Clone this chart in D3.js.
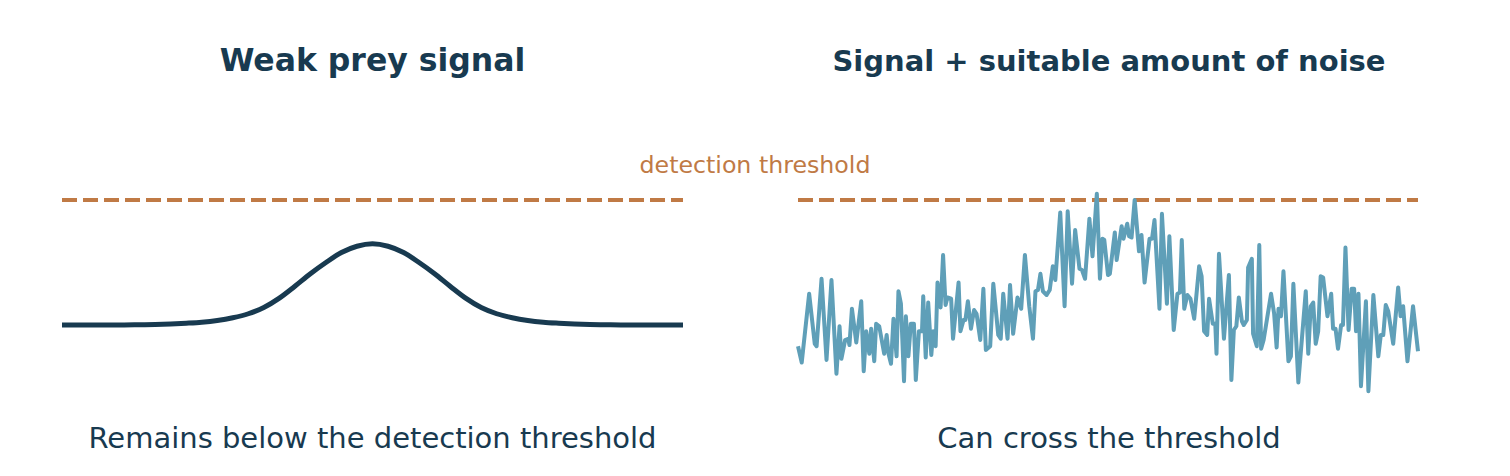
<!DOCTYPE html>
<html>
<head>
<meta charset="utf-8">
<script src="https://cdn.jsdelivr.net/npm/d3@7"></script>
<style>
  html, body { margin: 0; padding: 0; background: #fff; }
  svg { display: block; font-family: "DejaVu Sans", sans-serif; }
</style>
</head>
<body>
<svg id="chart"></svg>
<script>
// panel titles and captions
const titles = ["Weak prey signal", "Signal + suitable amount of noise"];
const captions = ["Remains below the detection threshold", "Can cross the threshold"];
const thresholdLabel = "detection threshold";
const threshold = 1.0;

// left panel: smooth weak signal (time, amplitude)
const signalT = [0, 0.5, 1, 1.25, 1.5, 1.75, 2, 2.25, 2.5, 2.75, 3, 3.25, 3.5, 3.75, 4, 4.25, 4.5, 4.75, 5,
  5.25, 5.5, 5.75, 6, 6.25, 6.5, 6.75, 7, 7.25, 7.5, 7.75, 8, 8.25, 8.5, 8.75, 9, 9.5, 10];
const signalV = [0, 0, 0, 0.002, 0.004, 0.008, 0.014, 0.022, 0.036, 0.058, 0.09, 0.14, 0.215, 0.31, 0.41, 0.50, 0.58, 0.63, 0.65,
  0.63, 0.58, 0.50, 0.41, 0.31, 0.215, 0.14, 0.09, 0.058, 0.036, 0.022, 0.014, 0.008, 0.004, 0.002, 0, 0, 0];

// right panel: signal + noise (time, amplitude)
const noiseT = [0.00, 0.06, 0.18, 0.27, 0.30, 0.38, 0.46, 0.54, 0.62, 0.67, 0.70, 0.76, 0.81, 0.83, 0.87,
  0.94, 1.02, 1.06, 1.10, 1.15, 1.18, 1.23, 1.26, 1.31, 1.39, 1.43, 1.46, 1.50, 1.54, 1.59,
  1.62, 1.66, 1.71, 1.74, 1.78, 1.82, 1.87, 1.90, 1.95, 2.00, 2.02, 2.06, 2.10, 2.15, 2.18,
  2.22, 2.25, 2.30, 2.34, 2.38, 2.41, 2.47, 2.50, 2.59, 2.62, 2.67, 2.70, 2.74, 2.79, 2.84,
  2.88, 2.94, 2.99, 3.03, 3.10, 3.15, 3.23, 3.27, 3.31, 3.38, 3.42, 3.47, 3.54, 3.60, 3.66,
  3.73, 3.79, 3.83, 3.87, 3.91, 3.95, 4.01, 4.06, 4.11, 4.15, 4.23, 4.30, 4.35, 4.42, 4.47,
  4.54, 4.58, 4.63, 4.70, 4.75, 4.82, 4.87, 4.91, 4.94, 5.00, 5.03, 5.11, 5.14, 5.22, 5.25,
  5.31, 5.34, 5.38, 5.43, 5.50, 5.54, 5.59, 5.67, 5.71, 5.75, 5.83, 5.87, 5.95, 5.99, 6.06,
  6.12, 6.16, 6.19, 6.23, 6.28, 6.33, 6.39, 6.47, 6.51, 6.55, 6.60, 6.63, 6.69, 6.73, 6.75,
  6.79, 6.87, 6.95, 6.99, 7.03, 7.07, 7.11, 7.16, 7.19, 7.24, 7.26, 7.32, 7.34, 7.40, 7.44,
  7.47, 7.51, 7.63, 7.68, 7.72, 7.75, 7.79, 7.83, 7.91, 7.95, 7.99, 8.07, 8.19, 8.23, 8.27,
  8.31, 8.35, 8.39, 8.43, 8.47, 8.54, 8.60, 8.63, 8.67, 8.71, 8.76, 8.79, 8.83, 8.88, 8.93,
  8.97, 9.00, 9.04, 9.08, 9.16, 9.20, 9.28, 9.36, 9.40, 9.44, 9.48, 9.52, 9.60, 9.68, 9.72,
  9.76, 9.83, 9.92, 10.00];
const noiseV = [-0.17, -0.30, 0.25, -0.15, -0.17, 0.37, -0.28, 0.36, -0.39, -0.01, -0.27, -0.12, -0.11, -0.16, 0.13,
  -0.14, 0.19, -0.37, -0.05, -0.23, -0.03, -0.29, 0.01, -0.01, -0.23, -0.08, -0.23, -0.31, 0.05, -0.25,
  0.27, 0.17, -0.45, 0.07, -0.25, 0.01, 0.01, -0.44, -0.05, -0.05, 0.23, -0.26, 0.18, -0.24, -0.05,
  -0.17, 0.34, 0.14, 0.56, 0.16, 0.22, 0.21, -0.11, 0.34, -0.05, 0.04, 0.04, 0.19, -0.03, 0.12,
  0.09, -0.12, 0.29, -0.20, -0.17, 0.33, -0.08, -0.11, 0.25, -0.11, 0.32, -0.07, 0.22, 0.13, 0.56,
  0.15, -0.11, 0.27, 0.28, 0.41, 0.27, 0.24, 0.28, 0.47, 0.36, 0.90, 0.15, 0.91, 0.33, 0.76,
  0.45, 0.44, 0.37, 0.85, 0.55, 1.05, 0.37, 0.69, 0.68, 0.40, 0.41, 0.74, 0.52, 0.79, 0.69,
  0.81, 0.71, 0.70, 1.00, 0.59, 0.72, 0.34, 0.69, 0.69, 0.84, 0.13, 0.89, 0.17, 0.71, -0.04,
  0.25, 0.26, 0.68, 0.13, 0.24, 0.21, 0.05, 0.47, 0.39, -0.05, -0.08, 0.21, 0.01, 0.01, -0.23,
  0.57, -0.11, 0.40, -0.44, -0.04, -0.01, 0.22, 0.03, 0.00, 0.04, 0.46, 0.53, -0.07, -0.17, 0.64,
  -0.19, -0.12, 0.25, 0.09, -0.18, 0.13, 0.07, 0.43, -0.29, -0.25, 0.33, -0.46, 0.27, -0.23, 0.15,
  0.18, -0.15, -0.05, 0.39, 0.38, 0.07, 0.25, -0.03, -0.03, -0.19, 0.00, 0.00, 0.62, -0.04, 0.29,
  0.29, -0.05, 0.25, -0.49, 0.19, -0.53, 0.24, -0.25, -0.08, -0.08, 0.16, 0.11, -0.15, 0.30, 0.07,
  0.15, -0.29, 0.15, -0.21];

const width = 1510, height = 476;
const navy = "#183a50", orange = "#c07a45", teal = "#5f9fb8";

const svg = d3.select("#chart").attr("width", width).attr("height", height);

// two panels, same value scale
const panels = [
  { x0: 62, x1: 683, cx: 372.5, t: signalT, v: signalV, color: navy, sw: 5, curve: d3.curveMonotoneX, titleSize: 31.5 },
  { x0: 798, x1: 1418, cx: 1109, t: noiseT, v: noiseV, color: teal, sw: 4, curve: d3.curveLinear, titleSize: 29 }
];

const y = d3.scaleLinear().domain([0, 1]).range([325, 200]);

panels.forEach((p, i) => {
  const x = d3.scaleLinear().domain([0, 10]).range([p.x0, p.x1]);
  const g = svg.append("g");

  // threshold dashes
  g.append("line")
    .attr("x1", x(0)).attr("x2", x(10))
    .attr("y1", y(threshold)).attr("y2", y(threshold))
    .attr("stroke", orange)
    .attr("stroke-width", 3.8)
    .attr("stroke-dasharray", "15,6");

  const line = d3.line()
    .x(d => x(d[0]))
    .y(d => y(d[1]))
    .curve(p.curve);

  g.append("path")
    .datum(d3.zip(p.t, p.v))
    .attr("fill", "none")
    .attr("stroke", p.color)
    .attr("stroke-width", p.sw)
    .attr("stroke-linejoin", "round")
    .attr("d", line);

  g.append("text")
    .attr("x", p.cx).attr("y", 71)
    .attr("text-anchor", "middle")
    .attr("font-weight", "bold")
    .attr("font-size", p.titleSize)
    .attr("fill", navy)
    .text(titles[i]);

  g.append("text")
    .attr("x", p.cx).attr("y", 448)
    .attr("text-anchor", "middle")
    .attr("font-size", 29)
    .attr("fill", navy)
    .text(captions[i]);
});

svg.append("text")
  .attr("x", 755).attr("y", 173)
  .attr("text-anchor", "middle")
  .attr("font-size", 23.7)
  .attr("fill", orange)
  .text(thresholdLabel);
</script>
</body>
</html>
